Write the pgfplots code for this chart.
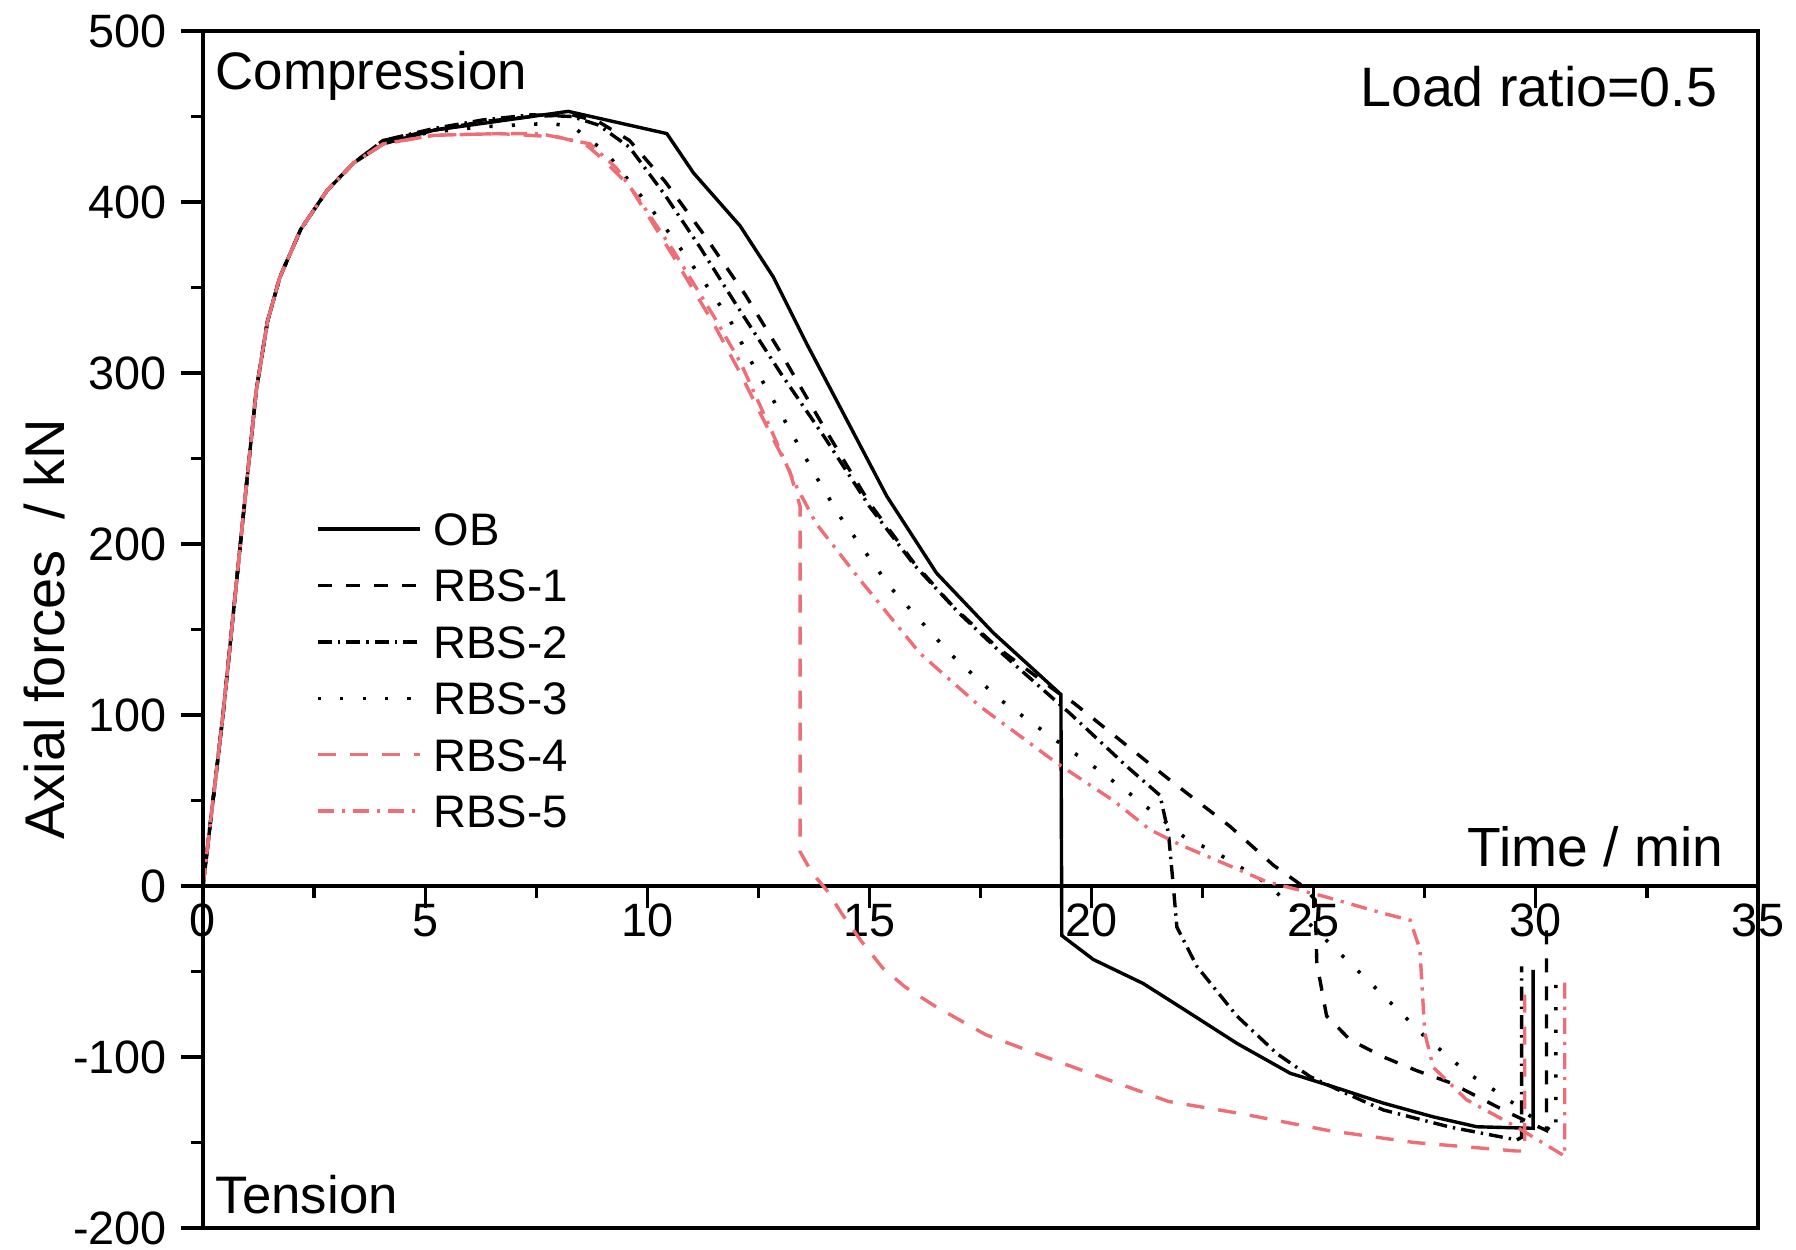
\documentclass[border=0pt]{standalone}
\usepackage{fontspec}
\setmainfont{Liberation Sans}
\usepackage{pgfplots}
\pgfplotsset{compat=1.18}

\definecolor{rbsred}{RGB}{238,110,120}

\begin{document}
\begin{tikzpicture}
\begin{axis}[
    scale only axis,
    width=388.75pt, height=299.25pt,
    xmin=0, xmax=35, ymin=-200, ymax=500,
    axis x line=middle, axis y line=left,
    axis line style={-, line width=0.8pt},
    clip=false,
    xtick={0,5,...,35}, ytick={-200,-100,...,500},
    minor x tick num=1, minor y tick num=1,
    tick align=outside,
    major tick length=5.5pt, minor tick length=3pt,
    every tick/.style={black, line width=0.8pt},
    hide obscured x ticks=false, hide obscured y ticks=false,
    /pgf/number format/assume math mode=true,
    tick label style={font=\fontsize{11.7}{14}\selectfont},
    xticklabel style={yshift=4.5pt},
    xlabel={Time / min},
    every axis x label/.style={at={(axis description cs:0.9781,0.3016)}, anchor=base east, inner sep=0pt, font=\fontsize{13.8}{16}\selectfont},
    ylabel={Axial forces~ / kN},
    every axis y label/.style={at={(axis description cs:-0.1022,0.5)}, anchor=center, rotate=90, inner sep=0pt, font=\fontsize{14}{16}\selectfont},
    legend cell align=left,
    legend image code/.code={\draw[#1] (0pt,0pt) -- (25.5pt,0pt);},
    legend style={at={(axis description cs:0.0727,0.466)}, anchor=west, draw=none, fill=none,
        inner sep=0pt, outer sep=0pt, row sep=5.9pt, column sep=3pt,
        nodes={inner sep=0pt, text height=8.2pt, text depth=0pt},
        font=\fontsize{11.4}{13}\selectfont},
]

% OB
\addplot[black, line width=0.85pt] coordinates {
(0,0) (0.45,100) (0.9,215) (1.2,290) (1.45,330) (1.73,356) (2.2,384) (2.8,407) (3.4,423) (4.06,434)
(5.2,442) (6.3,446) (7.4,450) (8.22,453) (10.44,440) (11.04,417) (12.09,386) (12.84,356)
(13.59,317) (14.34,280) (15.39,228) (16.51,183) (17.79,148) (19.31,112) (19.33,-29) (20.04,-43)
(21.16,-57) (22.07,-72) (23.27,-92) (24.47,-109.5) (25.44,-117.4) (26.57,-127) (27.69,-135)
(28.67,-140.8) (29.94,-141.7) (29.94,-49)
};
% RBS-1
\addplot[black, line width=0.85pt, dash pattern=on 3.5pt off 3.5pt] coordinates {
(0,0) (0.45,100) (0.9,215) (1.2,290) (1.45,330) (1.73,356) (2.2,384) (2.8,407) (3.4,423) (4.06,436)
(5.2,442) (6.3,447) (7.4,450) (8.3,451) (8.9,447) (9.6,436) (10.4,412) (11.3,380) (12.2,346)
(13.0,312) (13.96,269) (15.0,224) (16.0,189) (16.9,163) (17.9,139) (19.3,112) (19.6,107)
(20.8,82) (21.76,62) (23.11,35) (24.1,12) (24.75,0) (25.03,-8) (25.07,-45) (25.29,-76)
(25.82,-90) (26.57,-100) (27.32,-108) (28.07,-115) (28.82,-125) (29.42,-133) (30.24,-143) (30.24,-18)
};
% RBS-2
\addplot[black, line width=0.85pt, dash pattern=on 3.5pt off 1.5pt on 0.6pt off 1.5pt] coordinates {
(0,0) (0.45,100) (0.9,215) (1.2,290) (1.45,330) (1.73,356) (2.2,384) (2.8,407) (3.4,423) (4.06,436)
(5.2,443) (6.3,448) (7.4,451) (8.3,450) (8.9,445) (9.6,432) (10.4,404) (11.2,373) (12.0,340)
(13.0,300) (14.0,262) (15.0,222) (16.0,188) (17.0,160) (17.94,137) (19.51,101) (20.79,70)
(21.54,53) (21.73,31) (21.84,0) (21.92,-24) (22.37,-47) (23.27,-76) (24.17,-98) (24.92,-111.5)
(25.7,-121) (26.57,-131) (28.07,-141) (29.57,-148.5) (29.68,-147) (29.68,-47)
};
% RBS-3
\addplot[black, line width=0.9pt, dash pattern=on 0.8pt off 4.8pt] coordinates {
(0,0) (0.45,100) (0.9,215) (1.2,290) (1.45,330) (1.73,356) (2.2,384) (2.8,407) (3.4,423) (4.06,436)
(5.2,441) (6.3,444) (7.81,446) (8.33,444) (9.09,428.5) (10.06,397) (10.66,376) (11.26,354)
(11.86,331) (12.31,308) (12.84,284) (13.29,263) (13.81,239) (14.34,216) (15.46,175) (16.81,136)
(17.94,109) (19.21,85) (20.04,70) (20.86,54) (22.07,29) (22.97,17) (23.94,1.6) (24.54,-13)
(25.97,-49) (26.72,-68) (27.5,-88) (28.22,-104) (28.59,-111.5) (29.04,-119) (29.49,-127)
(30.0,-137) (30.45,-145) (30.45,-51)
};
% RBS-4
\addplot[rbsred, line width=0.85pt, dash pattern=on 4.5pt off 3.5pt] coordinates {
(0,0) (0.45,100) (0.9,215) (1.2,290) (1.45,330) (1.73,356) (2.2,384) (2.8,407) (3.4,423) (4.06,434)
(5.19,439) (6.68,440) (8.0,438) (8.6,434) (9.0,425) (9.61,409) (10.59,368) (11.49,329)
(12.09,300) (12.84,261) (13.2,243) (13.44,222) (13.44,20) (13.7,8) (14.04,-2.5) (14.4,-17)
(14.81,-32) (15.3,-48) (15.8,-59) (16.46,-70) (17.62,-87) (18.9,-99.4) (20.19,-111.6)
(21.73,-126) (23.4,-133.3) (25.33,-143) (27.26,-150) (29.57,-155) (29.75,-155) (29.75,-60)
};
% RBS-5
\addplot[rbsred, line width=0.85pt, dash pattern=on 4pt off 2pt on 0.8pt off 2pt] coordinates {
(0,0) (0.45,100) (0.9,215) (1.2,290) (1.45,330) (1.73,356) (2.2,384) (2.8,407) (3.4,423) (4.06,434)
(5.19,439) (6.68,440) (7.58,440) (8.71,434) (9.3,420) (9.8,402) (10.6,371) (11.5,333) (12.1,306)
(12.8,266) (13.29,237) (13.8,212) (14.79,179) (16.14,136) (17.49,105) (19.21,72) (20.49,50)
(21.31,33) (22.0,24) (22.82,15) (23.94,2.5) (25.22,-6) (26.57,-16) (27.17,-20) (27.39,-37)
(27.5,-86) (27.69,-106) (28.44,-125) (29.57,-141) (30.65,-158) (30.65,-53)
};
\legend{OB, RBS-1, RBS-2, RBS-3, RBS-4, RBS-5}

\draw[line width=0.8pt] (rel axis cs:0,0) rectangle (rel axis cs:1,1);
\node[anchor=base west, inner sep=0pt, font=\fontsize{13.2}{15}\selectfont] at (axis description cs:0.0077,0.9515) {Compression};
\node[anchor=base east, inner sep=0pt, font=\fontsize{13.9}{16}\selectfont] at (axis description cs:0.9743,0.9369) {Load ratio=0.5};
\node[anchor=base west, inner sep=0pt, font=\fontsize{13.2}{15}\selectfont] at (axis description cs:0.0077,0.0117) {Tension};

\coordinate (sw) at (rel axis cs:0,0);
\coordinate (ne) at (rel axis cs:1,1);
\end{axis}
\pgfresetboundingbox
\path ([shift={(-50.75pt,-5.5pt)}]sw) rectangle ([shift={(9.5pt,7.75pt)}]ne);
\end{tikzpicture}
\end{document}
